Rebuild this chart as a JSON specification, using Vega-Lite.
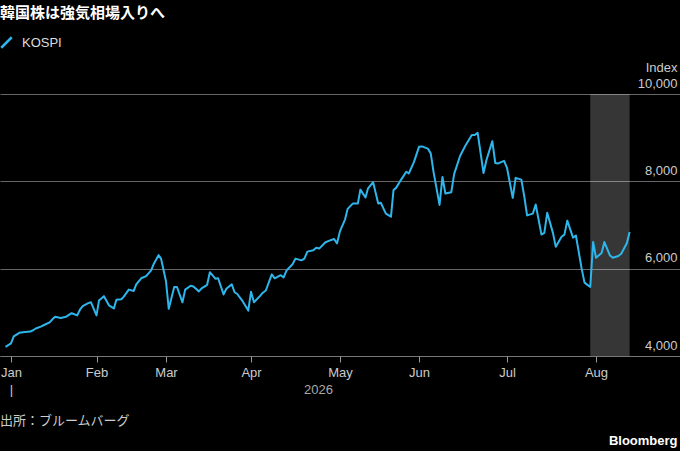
{
  "$schema": "https://vega.github.io/schema/vega-lite/v6.json",
  "width": 680,
  "height": 262,
  "autosize": {"type": "none"},
  "padding": {"left": 0, "right": 0, "top": 94, "bottom": 95},
  "background": "#000000",
  "title": {
    "text": "出所：ブルームバーグ",
    "orient": "bottom",
    "anchor": "start",
    "offset": -32,
    "font": "Noto Sans CJK JP",
    "fontSize": 13,
    "fontWeight": "normal",
    "color": "#cccccc"
  },
  "datasets": {
    "band": [{"start": "2026-07-30", "end": "2026-08-13"}],
    "kospi": [
      {"date": "2025-12-30", "value": 4210},
      {"date": "2026-01-01", "value": 4290},
      {"date": "2026-01-02", "value": 4450},
      {"date": "2026-01-04", "value": 4530},
      {"date": "2026-01-06", "value": 4550},
      {"date": "2026-01-08", "value": 4560},
      {"date": "2026-01-09", "value": 4590},
      {"date": "2026-01-10", "value": 4630},
      {"date": "2026-01-12", "value": 4680},
      {"date": "2026-01-13", "value": 4710},
      {"date": "2026-01-15", "value": 4770},
      {"date": "2026-01-16", "value": 4840},
      {"date": "2026-01-17", "value": 4900},
      {"date": "2026-01-19", "value": 4870},
      {"date": "2026-01-21", "value": 4900},
      {"date": "2026-01-22", "value": 4940},
      {"date": "2026-01-23", "value": 4980},
      {"date": "2026-01-25", "value": 4930},
      {"date": "2026-01-26", "value": 5060},
      {"date": "2026-01-27", "value": 5140},
      {"date": "2026-01-29", "value": 5210},
      {"date": "2026-01-30", "value": 5230},
      {"date": "2026-02-01", "value": 4930},
      {"date": "2026-02-02", "value": 5270},
      {"date": "2026-02-04", "value": 5370},
      {"date": "2026-02-06", "value": 5160},
      {"date": "2026-02-08", "value": 5090},
      {"date": "2026-02-09", "value": 5290},
      {"date": "2026-02-11", "value": 5300},
      {"date": "2026-02-12", "value": 5360},
      {"date": "2026-02-14", "value": 5520},
      {"date": "2026-02-16", "value": 5490},
      {"date": "2026-02-17", "value": 5640},
      {"date": "2026-02-19", "value": 5780},
      {"date": "2026-02-21", "value": 5830},
      {"date": "2026-02-23", "value": 5960},
      {"date": "2026-02-24", "value": 6100},
      {"date": "2026-02-26", "value": 6310},
      {"date": "2026-02-27", "value": 6230},
      {"date": "2026-03-01", "value": 5710},
      {"date": "2026-03-02", "value": 5080},
      {"date": "2026-03-04", "value": 5580},
      {"date": "2026-03-05", "value": 5580},
      {"date": "2026-03-07", "value": 5230},
      {"date": "2026-03-08", "value": 5520},
      {"date": "2026-03-10", "value": 5610},
      {"date": "2026-03-11", "value": 5590},
      {"date": "2026-03-13", "value": 5480},
      {"date": "2026-03-14", "value": 5550},
      {"date": "2026-03-16", "value": 5630},
      {"date": "2026-03-17", "value": 5920},
      {"date": "2026-03-19", "value": 5770},
      {"date": "2026-03-20", "value": 5780},
      {"date": "2026-03-22", "value": 5410},
      {"date": "2026-03-23", "value": 5540},
      {"date": "2026-03-25", "value": 5640},
      {"date": "2026-03-26", "value": 5460},
      {"date": "2026-03-27", "value": 5420},
      {"date": "2026-03-29", "value": 5250},
      {"date": "2026-03-31", "value": 5040},
      {"date": "2026-04-01", "value": 5470},
      {"date": "2026-04-02", "value": 5230},
      {"date": "2026-04-04", "value": 5370},
      {"date": "2026-04-05", "value": 5450},
      {"date": "2026-04-06", "value": 5500},
      {"date": "2026-04-08", "value": 5870},
      {"date": "2026-04-09", "value": 5780},
      {"date": "2026-04-11", "value": 5850},
      {"date": "2026-04-12", "value": 5800},
      {"date": "2026-04-13", "value": 5960},
      {"date": "2026-04-15", "value": 6100},
      {"date": "2026-04-16", "value": 6230},
      {"date": "2026-04-18", "value": 6190},
      {"date": "2026-04-19", "value": 6230},
      {"date": "2026-04-20", "value": 6390},
      {"date": "2026-04-22", "value": 6420},
      {"date": "2026-04-23", "value": 6480},
      {"date": "2026-04-24", "value": 6460},
      {"date": "2026-04-26", "value": 6600},
      {"date": "2026-04-27", "value": 6630},
      {"date": "2026-04-29", "value": 6680},
      {"date": "2026-04-30", "value": 6580},
      {"date": "2026-05-01", "value": 6860},
      {"date": "2026-05-03", "value": 7130},
      {"date": "2026-05-04", "value": 7370},
      {"date": "2026-05-06", "value": 7490},
      {"date": "2026-05-08", "value": 7490},
      {"date": "2026-05-09", "value": 7810},
      {"date": "2026-05-11", "value": 7630},
      {"date": "2026-05-12", "value": 7840},
      {"date": "2026-05-14", "value": 7980},
      {"date": "2026-05-16", "value": 7490},
      {"date": "2026-05-17", "value": 7510},
      {"date": "2026-05-19", "value": 7260},
      {"date": "2026-05-21", "value": 7190},
      {"date": "2026-05-22", "value": 7800},
      {"date": "2026-05-23", "value": 7850},
      {"date": "2026-05-25", "value": 8040},
      {"date": "2026-05-27", "value": 8220},
      {"date": "2026-05-28", "value": 8180},
      {"date": "2026-05-30", "value": 8440},
      {"date": "2026-06-01", "value": 8790},
      {"date": "2026-06-02", "value": 8800},
      {"date": "2026-06-04", "value": 8750},
      {"date": "2026-06-05", "value": 8640},
      {"date": "2026-06-06", "value": 8200},
      {"date": "2026-06-08", "value": 7460},
      {"date": "2026-06-09", "value": 8100},
      {"date": "2026-06-10", "value": 7720},
      {"date": "2026-06-12", "value": 7750},
      {"date": "2026-06-13", "value": 8170},
      {"date": "2026-06-15", "value": 8580},
      {"date": "2026-06-16", "value": 8710},
      {"date": "2026-06-17", "value": 8840},
      {"date": "2026-06-19", "value": 9060},
      {"date": "2026-06-20", "value": 9060},
      {"date": "2026-06-21", "value": 9110},
      {"date": "2026-06-23", "value": 8190},
      {"date": "2026-06-24", "value": 8490},
      {"date": "2026-06-26", "value": 8920},
      {"date": "2026-06-27", "value": 8420},
      {"date": "2026-06-28", "value": 8410},
      {"date": "2026-06-30", "value": 8470},
      {"date": "2026-07-01", "value": 8310},
      {"date": "2026-07-03", "value": 7620},
      {"date": "2026-07-04", "value": 8080},
      {"date": "2026-07-06", "value": 8040},
      {"date": "2026-07-07", "value": 7660},
      {"date": "2026-07-08", "value": 7220},
      {"date": "2026-07-10", "value": 7260},
      {"date": "2026-07-11", "value": 7470},
      {"date": "2026-07-13", "value": 6780},
      {"date": "2026-07-14", "value": 6820},
      {"date": "2026-07-15", "value": 7280},
      {"date": "2026-07-17", "value": 6820},
      {"date": "2026-07-18", "value": 6500},
      {"date": "2026-07-20", "value": 6730},
      {"date": "2026-07-21", "value": 6780},
      {"date": "2026-07-22", "value": 7100},
      {"date": "2026-07-24", "value": 6710},
      {"date": "2026-07-25", "value": 6760},
      {"date": "2026-07-27", "value": 6000},
      {"date": "2026-07-28", "value": 5680},
      {"date": "2026-07-30", "value": 5580},
      {"date": "2026-07-31", "value": 6610},
      {"date": "2026-08-01", "value": 6250},
      {"date": "2026-08-03", "value": 6360},
      {"date": "2026-08-04", "value": 6610},
      {"date": "2026-08-06", "value": 6300},
      {"date": "2026-08-07", "value": 6250},
      {"date": "2026-08-09", "value": 6290},
      {"date": "2026-08-10", "value": 6340},
      {"date": "2026-08-12", "value": 6580},
      {"date": "2026-08-13", "value": 6840}
    ]
  },
  "layer": [
    {
      "data": {"name": "band"},
      "mark": {"type": "rect", "fill": "#ffffff", "opacity": 0.21},
      "encoding": {
        "x": {
          "field": "start",
          "type": "temporal",
          "scale": {
            "type": "utc",
            "nice": false,
            "domainRaw": {"expr": "[1766880000000, 1767225600000, 1769904000000, 1772323200000, 1775001600000, 1777593600000, 1780272000000, 1782864000000, 1785542400000, 1788134400000]"},
            "range": [0, 11, 96.5, 166, 251, 340, 419, 507, 596, 680]
          }
        },
        "x2": {"field": "end"}
      }
    },
    {
      "data": {"name": "kospi"},
      "mark": {"type": "line", "strokeWidth": 2, "strokeJoin": "round"},
      "encoding": {
        "x": {
          "field": "date",
          "type": "temporal",
          "scale": {
            "type": "utc",
            "nice": false,
            "domainRaw": {"expr": "[1766880000000, 1767225600000, 1769904000000, 1772323200000, 1775001600000, 1777593600000, 1780272000000, 1782864000000, 1785542400000, 1788134400000]"},
            "range": [0, 11, 96.5, 166, 251, 340, 419, 507, 596, 680]
          },
          "axis": {
            "values": [1767225600000, 1769904000000, 1772323200000, 1775001600000, 1777593600000, 1780272000000, 1782864000000, 1785542400000],
            "labelExpr": "utcmonth(datum.value) == 0 ? ['Jan', '|'] : utcFormat(datum.value, '%b')",
            "labelLineHeight": 17,
            "labelFont": "Liberation Sans",
            "labelFontSize": 13,
            "labelColor": "#cccccc",
            "labelPadding": 4,
            "labelFlush": false,
            "labelOverlap": false,
            "tickSize": 6,
            "tickColor": "#999999",
            "domainColor": "#777777",
            "grid": false,
            "title": "2026",
            "titleX": 318,
            "titleY": 33.5,
            "titleAlign": "center",
            "titleBaseline": "middle",
            "titleFont": "Liberation Sans",
            "titleFontSize": 13,
            "titleFontWeight": "normal",
            "titleColor": "#aaaaaa"
          }
        },
        "y": {
          "field": "value",
          "type": "quantitative",
          "scale": {"domain": [4000, 10000], "nice": false, "zero": false},
          "axis": {
            "orient": "right",
            "values": [4000, 6000, 8000, 10000],
            "labelExpr": "datum.value == 10000 ? ['Index', '10,000'] : format(datum.value, ',')",
            "labelLineHeight": 16,
            "labelAlign": "right",
            "labelBaseline": "bottom",
            "labelPadding": -3,
            "labelOffset": {"condition": {"test": "datum.value == 10000", "value": -20}, "value": -4},
            "labelFont": "Liberation Sans",
            "labelFontSize": 13,
            "labelColor": "#cccccc",
            "labelFlush": false,
            "labelOverlap": false,
            "ticks": false,
            "domain": false,
            "grid": true,
            "gridColor": "#666666",
            "title": "Bloomberg",
            "titleAngle": 0,
            "titleX": -3,
            "titleY": 346,
            "titleAlign": "right",
            "titleBaseline": "middle",
            "titleFont": "Liberation Sans",
            "titleFontSize": 13,
            "titleFontWeight": "bold",
            "titleColor": "#ffffff"
          }
        },
        "color": {
          "datum": "KOSPI",
          "scale": {"range": ["#2eb6ec"]},
          "legend": {
            "title": "韓国株は強気相場入りへ",
            "orient": "none",
            "legendX": 0,
            "legendY": -88,
            "padding": 0,
            "titleFont": "Noto Sans CJK JP",
            "titleFontSize": 15,
            "titleFontWeight": "bold",
            "titleColor": "#ffffff",
            "titlePadding": 15,
            "titleLimit": 500,
            "labelFont": "Liberation Sans",
            "labelFontSize": 13,
            "labelColor": "#dddddd",
            "labelOffset": 9,
            "symbolType": "M-1,1L1,-1",
            "symbolSize": 110,
            "symbolStrokeWidth": 2.5
          }
        }
      }
    }
  ],
  "config": {
    "view": {"stroke": null},
    "font": "Liberation Sans"
  }
}
